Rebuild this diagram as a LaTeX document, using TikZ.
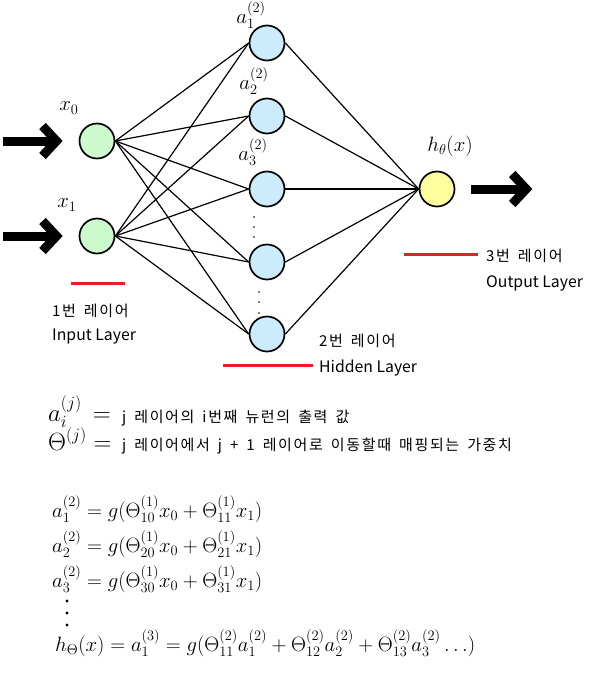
\documentclass[tikz,border=0pt]{standalone}
\usepackage{amsmath}
\usepackage{fontspec}
\newfontfamily\krfont[LetterSpace=11, WordSpace=1.6]{Noto Sans CJK KR}
\newfontfamily\enfont{Noto Sans CJK KR}
\usetikzlibrary{positioning,arrows.meta}
\definecolor{InputGreen}{RGB}{204,250,204}
\definecolor{HiddenBlue}{RGB}{204,235,252}
\definecolor{OutputYellow}{RGB}{255,255,160}
\definecolor{LayerRed}{RGB}{237,28,36}
\tikzset{
    neuron/.style={circle, draw=black, line width=1.7pt, minimum size=35pt, inner sep=0pt},
    input_node/.style={neuron, fill=InputGreen},
    hidden_node/.style={neuron, fill=HiddenBlue},
    output_node/.style={neuron, fill=OutputYellow},
    synapse/.style={draw=black, line width=1.2pt},
    big_arrow/.style={line width=9pt, -{Straight Barb[length=14pt, width=30pt]}},
    layer_line/.style={draw=LayerRed, line width=3pt},
    layer_text/.style={font=\krfont\fontsize{15}{17}\selectfont, anchor=west, inner sep=0pt},
    layer_name/.style={font=\enfont\fontsize{15.8}{17}\selectfont, anchor=west, inner sep=0pt},
    unit_label/.style={font=\fontsize{20.5}{22}\selectfont, inner sep=0pt}
}

\begin{document}
\begin{tikzpicture}[
        x=1pt, y=-1pt,
        % --- STYLE CHO PHAN CONG THUC ---
        def_math/.style={anchor=base west, inner sep=0pt, font=\fontsize{23}{25}\selectfont},
        def_text/.style={anchor=base west, inner sep=0pt, font=\krfont\fontsize{15}{17}\selectfont},
        eq_math/.style={anchor=base west, inner sep=0pt, font=\fontsize{20}{22}\selectfont}
    ]
    \useasboundingbox (0,0) rectangle (600,677);

    % --- NEURONS ---
    \node[input_node] (x0) at (97,141) {};
    \node[input_node] (x1) at (97,236) {};
    \foreach \i/\y in {1/43, 2/116, 3/189, 4/262, 5/334}
        \node[hidden_node] (h\i) at (267,\y) {};
    \node[output_node] (out) at (437,189) {};

    % --- LIEN KET ---
    \foreach \s in {x0, x1}
        \foreach \i in {1,...,5}
            \draw[synapse] (\s.east) -- (h\i.west);
    \foreach \i in {1,...,5}
        \draw[synapse] (h\i.east) -- (out.west);

    % --- MUI TEN VAO / RA ---
    \coordinate[left=16pt of x0] (tip0);
    \coordinate[left=60pt of tip0] (start0);
    \coordinate[left=16pt of x1] (tip1);
    \coordinate[left=60pt of tip1] (start1);
    \coordinate[right=16pt of out] (outstart);
    \coordinate[right=61pt of outstart] (outtip);
    \draw[big_arrow] (start0) -- (tip0);
    \draw[big_arrow] (start1) -- (tip1);
    \draw[big_arrow] (outstart) -- (outtip);

    % --- NHAN ---
    \node[unit_label] (lx0) at (69,108) {$x_0$};
    \node[unit_label] (lx1) at (67,205) {$x_1$};
    \node[unit_label] (la1) at (251,15) {$a_1^{(2)}$};
    \node[unit_label] (la2) at (254,81) {$a_2^{(2)}$};
    \node[unit_label] (la3) at (253,152) {$a_3^{(2)}$};
    \node[unit_label] (lh) at (450,146) {$h_\theta(x)$};

    % --- DAU CHAM ---
    \foreach \y in {217, 227, 237}
        \fill (254,\y) circle (0.8);
    \foreach \y in {292, 302, 313}
        \fill (259,\y) circle (0.8);

    % --- TEN LOP ---
    \draw[layer_line] (71,283) -- (125,283);
    \draw[layer_line] (223,365) -- (313,365);
    \draw[layer_line] (404,254) -- (478,254);
    \node[layer_text] (in1) at (52,311) {1번 레이어};
    \node[layer_name] (in2) at (52,337) {Input Layer};
    \node[layer_text] (hid1) at (319,341) {2번 레이어};
    \node[layer_name] (hid2) at (319,368) {Hidden Layer};
    \node[layer_text] (out1) at (486,256) {3번 레이어};
    \node[layer_name] (out2) at (486,283) {Output Layer};

    % --- DINH NGHIA ---
    \node[def_math] (defa) at (48,421) {$a_i^{(j)}\,=$};
    \node[def_text] (defatext) at (122,422) {j 레이어의 i번째 뉴런의 출력 값};
    \node[def_math] (deft) at (48,450) {$\Theta^{(j)} =$};
    \node[def_text] (defttext) at (122,450) {j 레이어에서 j + 1 레이어로 이동할때 매핑되는 가중치};

    % --- CONG THUC ---
    \node[eq_math] (eq1) at (52,517) {$a_1^{(2)} = g(\Theta_{10}^{(1)} x_0 + \Theta_{11}^{(1)} x_1)$};
    \node[eq_math] (eq2) at (52,552) {$a_2^{(2)} = g(\Theta_{20}^{(1)} x_0 + \Theta_{21}^{(1)} x_1)$};
    \node[eq_math] (eq3) at (52,587) {$a_3^{(2)} = g(\Theta_{30}^{(1)} x_0 + \Theta_{31}^{(1)} x_1)$};
    \foreach \y in {601, 613, 625}
        \fill (67,\y) circle (1.7);
    \node[eq_math] (eqh) at (55,651) {$h_\Theta(x) = a_1^{(3)} = g(\Theta_{11}^{(2)} a_1^{(2)} + \Theta_{12}^{(2)} a_2^{(2)} + \Theta_{13}^{(2)} a_3^{(2)} \ldots)$};

\end{tikzpicture}
\end{document}
